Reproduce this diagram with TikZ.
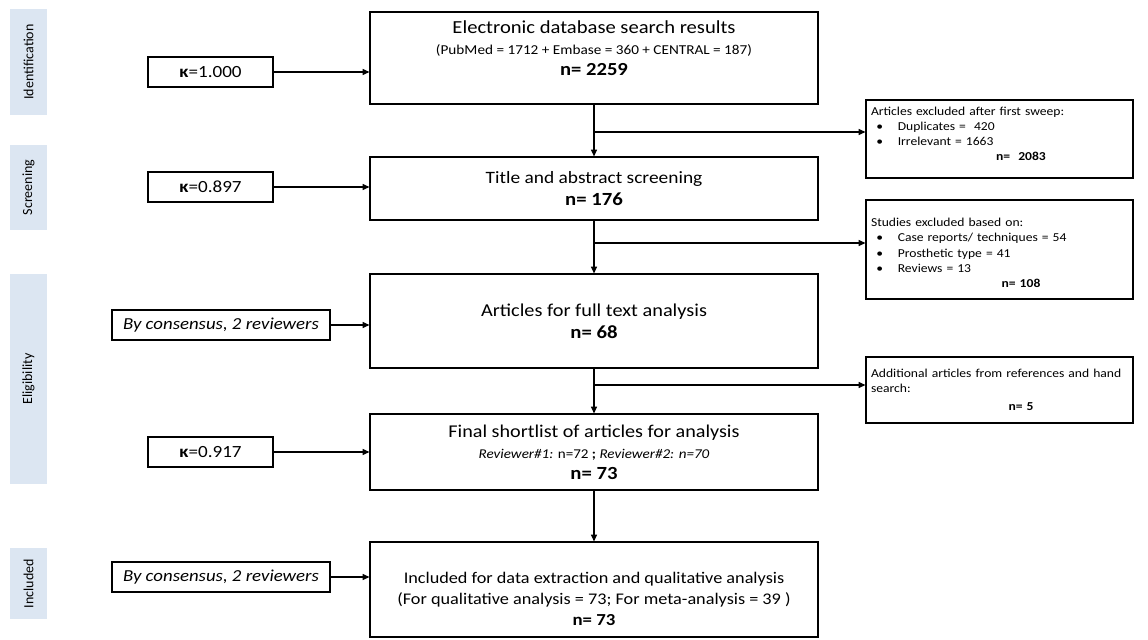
\documentclass[tikz,border=0pt]{standalone}
\usepackage{fontspec}
\setmainfont{Carlito}[FakeStretch=1.12]
\newfontfamily\plainfont{Carlito}
\usetikzlibrary{arrows.meta}
\definecolor{lblue}{HTML}{DCE6F2}
\begin{document}
\begin{tikzpicture}[x=0.75pt,y=-0.75pt,
  line width=0.9pt,
  >={Triangle[length=5pt,width=4.5pt]},
  mainbox/.style={draw, minimum width=336pt, align=center, inner sep=2pt},
  boxtext/.style={align=center, inner sep=0pt},
  sidebox/.style={draw, minimum width=93.75pt, minimum height=22.5pt, inner sep=2pt, font=\fontsize{12.8}{14}\selectfont},
  consbox/.style={draw, minimum width=163.5pt, minimum height=22.5pt, inner sep=2pt, font=\fontsize{12.6}{14}\selectfont\itshape},
  exbox/.style={draw, minimum width=200.25pt, inner sep=0pt},
  extext/.style={text width=195pt, align=left, inner sep=0pt, font=\fontsize{9.1}{11.4}\selectfont},
  stage/.style={fill=lblue, minimum height=27.75pt, inner sep=0pt, font=\plainfont\fontsize{10.5}{12}\selectfont, rotate=90},
]
\useasboundingbox (0,0) rectangle (1148,639);
% stage labels
\node[stage, minimum width=79.5pt] (sid) at (28.5,62) {Identification};
\node[stage, minimum width=63.75pt] (ssc) at (28.5,187.5) {Screening};
\node[stage, minimum width=157.5pt] (sel) at (28.5,379) {Eligibility};
\node[stage, minimum width=53.25pt] (sin) at (28.5,583.5) {Included};
% main boxes
\node[mainbox, minimum height=69pt] (b1) at (594,58) {};
\node[boxtext, font=\fontsize{13.8}{15.75}\selectfont] (b1t) at (594,48) {Electronic database search results\\
  {\fontsize{10.2}{15.75}\selectfont (PubMed = 1712 + Embase = 360 + CENTRAL = 187)}\\
  {\bfseries n= 2259}};
\node[mainbox, minimum height=47.25pt, font=\fontsize{13}{17}\selectfont] (b2) at (594,188.5) {Title and abstract screening\\
  {\fontsize{13.9}{17}\selectfont\bfseries n= 176}};
\node[mainbox, minimum height=70.5pt, font=\fontsize{13.6}{16.5}\selectfont] (b3) at (594,321) {Articles for full text analysis\\
  {\fontsize{13.9}{16.5}\selectfont\bfseries n= 68}};
\node[mainbox, minimum height=57pt, font=\fontsize{13.5}{15.75}\selectfont] (b4) at (594,452) {Final shortlist of articles for analysis\\
  {\fontsize{10.1}{15.75}\selectfont\textit{Reviewer\#1:} n=72 \textbf{;} \textit{Reviewer\#2: n=70}}\\
  {\fontsize{13.9}{15.75}\selectfont\bfseries n= 73}};
\node[mainbox, minimum height=71.25pt] (b5) at (594,589.5) {};
\node[boxtext, font=\fontsize{12.2}{15.75}\selectfont] (b5t) at (594,599) {Included for data extraction and qualitative analysis\\
  (For qualitative analysis = 73; For meta-analysis = 39 )\\
  {\fontsize{12.6}{15.75}\selectfont\bfseries n= 73}};
% side boxes
\node[sidebox] (k1) at (210.5,72) {\textbf{κ}=1.000};
\node[sidebox] (k2) at (210.5,187) {\textbf{κ}=0.897};
\node[consbox] (c1) at (221,325) {By consensus, 2 reviewers};
\node[sidebox] (k3) at (210.5,452) {\textbf{κ}=0.917};
\node[consbox] (c2) at (221,577) {By consensus, 2 reviewers};
% excluded boxes
\node[exbox, minimum height=58.5pt] (e1) at (999.5,139) {};
\node[extext] (e1t) at (1001,134) {Articles excluded after first sweep:\\
  \hspace*{4pt}\textbullet\hspace{11pt}Duplicates =\ \ 420\\
  \hspace*{4pt}\textbullet\hspace{11pt}Irrelevant = 1663\\
  \makebox[\linewidth]{\hspace{30pt}\textbf{n=\ \ 2083}}};
\node[exbox, minimum height=74.25pt] (e2) at (999.5,249.5) {};
\node[extext] (e2t) at (1001,253) {Studies excluded based on:\\
  \hspace*{4pt}\textbullet\hspace{11pt}Case reports/ techniques = 54\\
  \hspace*{4pt}\textbullet\hspace{11pt}Prosthetic type = 41\\
  \hspace*{4pt}\textbullet\hspace{11pt}Reviews = 13\\
  \makebox[\linewidth]{\hspace{30pt}\textbf{n= 108}}};
\node[exbox, minimum height=49.5pt] (e3) at (999.5,390) {};
\node[extext] (e3t) at (1001,390) {Additional articles from references and hand\\
  search:\\[2pt]
  \makebox[\linewidth]{\hspace{30pt}\textbf{n= 5}}};
% connectors
\draw[->] (k1) -- (k1 -| b1.west);
\draw[->] (k2) -- (k2 -| b2.west);
\draw[->] (c1) -- (c1 -| b3.west);
\draw[->] (k3) -- (k3 -| b4.west);
\draw[->] (c2) -- (c2 -| b5.west);
\draw[->] (b1) -- (b2);
\draw[->] (b2) -- (b3);
\draw[->] (b3) -- (b4);
\draw[->] (b4) -- (b5);
\coordinate (r1) at (594,132);
\coordinate (r2) at (594,243);
\coordinate (r3) at (594,385);
\draw[->] (r1) -- (r1 -| e1.west);
\draw[->] (r2) -- (r2 -| e2.west);
\draw[->] (r3) -- (r3 -| e3.west);
\end{tikzpicture}
\end{document}
